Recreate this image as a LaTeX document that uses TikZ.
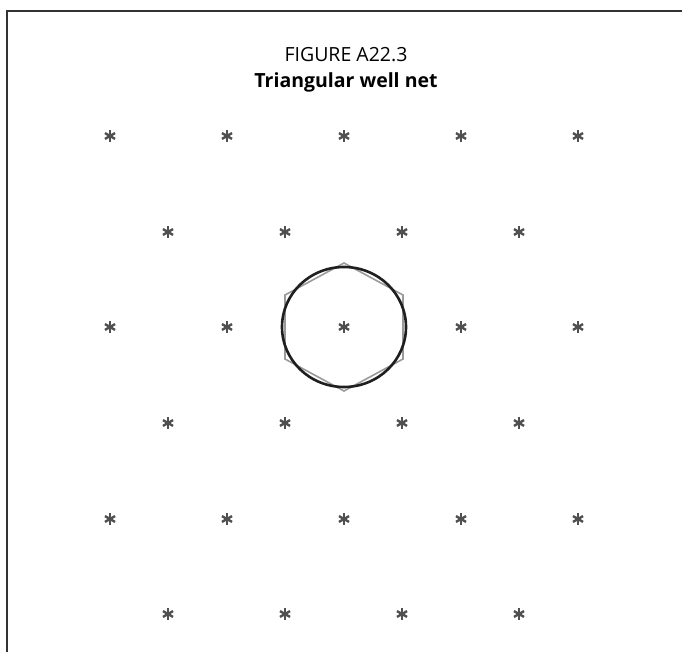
\documentclass[tikz,border=0pt]{standalone}
\usepackage{fontspec}
\setmainfont{Open Sans}
\usepackage{xcolor}
\usepackage{tikz}
\usetikzlibrary{positioning}
\definecolor{wellgray}{HTML}{505050}
\definecolor{cellgray}{HTML}{9A9A9A}
\definecolor{framegray}{HTML}{333333}
\tikzset{
  well/.style={inner sep=0pt, minimum size=13pt,
    path picture={\foreach \a in {90,30,150}
      \draw[line width=2.4pt, wellgray]
        ([shift={(\a:5.8pt)}]path picture bounding box.center) --
        ([shift={(\a+180:5.8pt)}]path picture bounding box.center);}},
  titletext/.style={anchor=base, inner sep=0pt, font=\fontsize{19.5}{23}\selectfont},
}

\begin{document}
\begin{tikzpicture}[x=1pt, y=-1pt]
\useasboundingbox (0,0) rectangle (682,652);
% frame, open on the right and at the bottom
\draw[line width=1.8pt, framegray] (7,652) -- (7,11) -- (682,11);
% title
\node[titletext] (fig) at (346,62) {FIGURE A22.3};
\node[titletext, font=\fontsize{19.5}{23}\selectfont\bfseries] (title) at (346,88) {Triangular well net};
% wells: rows of five and rows of four, offset by half a spacing
\foreach \r/\y in {1/136, 3/327, 5/519}
  \foreach \c in {1,...,5}
    \node[well] (w-\r-\c) at ({110+117*(\c-1)}, \y) {};
\foreach \r/\y in {2/232, 4/423, 6/614}
  \foreach \c in {1,...,4}
    \node[well] (w-\r-\c) at ({168+117*(\c-1)}, \y) {};
% cell of the centre well and its equivalent circle
\draw[cellgray, line width=1.6pt]
  ([shift={(0,-64)}]w-3-3.center) -- ([shift={(59,-32)}]w-3-3.center)
  -- ([shift={(59,32)}]w-3-3.center) -- ([shift={(0,64)}]w-3-3.center)
  -- ([shift={(-59,32)}]w-3-3.center) -- ([shift={(-59,-32)}]w-3-3.center) -- cycle;
\draw[black!88, line width=2.6pt] (w-3-3.center) ellipse [x radius=62, y radius=60];
\end{tikzpicture}
\end{document}
